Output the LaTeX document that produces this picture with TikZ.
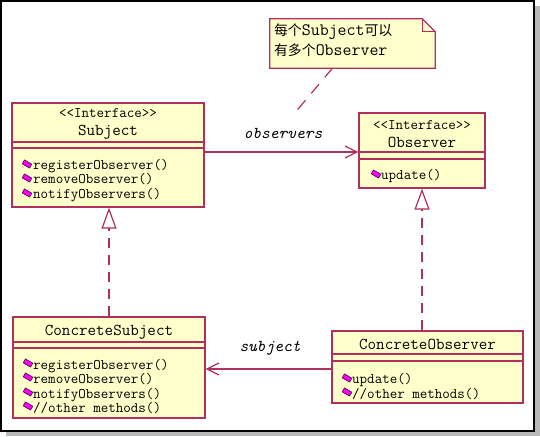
\documentclass[tikz,border=0pt]{standalone}
\usepackage{fontspec}
\newfontfamily\cjk[Scale=0.8]{Noto Sans CJK SC}
\usetikzlibrary{arrows.meta}
\definecolor{umlred}{RGB}{176,48,96}
\definecolor{umlfill}{RGB}{255,255,204}
\definecolor{opfill}{RGB}{255,0,255}
\pgfdeclarelayer{background}
\pgfsetlayers{background,main}

\begin{document}
\begin{tikzpicture}[x=1pt,y=-1pt,
		classbox/.style={draw=umlred,fill=umlfill,line width=1.2pt,inner sep=0pt},
		stereo/.style={font=\ttfamily\fontsize{14.6}{16}\selectfont,inner sep=0pt},
		cname/.style={font=\ttfamily\fontsize{16.6}{19}\selectfont,inner sep=0pt},
		ops/.style={font=\ttfamily\fontsize{14.6}{14.5}\selectfont,align=left,anchor=west,inner sep=0pt},
		opicon/.style={draw=violet!50!black,fill=opfill,line width=0.6pt,minimum width=8.5pt,minimum height=4.5pt,inner sep=0pt,rotate=-30},
		role/.style={font=\ttfamily\itshape\fontsize{16.6}{19}\selectfont,inner sep=0pt},
		assoc/.style={draw=umlred,line width=1.2pt,-{Straight Barb[length=12pt,width=12pt,line width=1.2pt]}},
		realize/.style={draw=umlred,line width=1.2pt,dash pattern=on 10pt off 7pt,-{Triangle[open,length=21pt,width=15pt,line width=1.2pt]}},
		notelink/.style={draw=umlred,line width=1.2pt,dash pattern=on 12pt off 9pt}]
		\useasboundingbox (0,0) rectangle (540,436);
		
		% Subject
		\node[classbox,minimum width=192pt,minimum height=104pt] (subject) at (108,155) {};
		\draw[umlred,line width=1.2pt] (12,142) -- (204,142) (12,148) -- (204,148);
		\node[stereo] (subjectst) at (108,113) {<<Interface>>};
		\node[cname] (subjectname) at (108,132) {Subject};
		\node[ops] (subjectops) at (33,180.5) {registerObserver()\\removeObserver()\\notifyObservers()};
		\foreach \y in {164,178,193} \node[opicon] at (27,\y) {};
		
		% Observer
		\node[classbox,minimum width=126pt,minimum height=75pt] (observer) at (422,150.5) {};
		\draw[umlred,line width=1.2pt] (359,152) -- (485,152) (359,159) -- (485,159);
		\node[stereo] (observerst) at (422,125) {<<Interface>>};
		\node[cname] (observername) at (422,142) {Observer};
		\node[ops] (observerops) at (381,176) {update()};
		\node[opicon] at (376,174) {};
		
		% ConcreteSubject
		\node[classbox,minimum width=192pt,minimum height=101pt] (csubject) at (109,367.5) {};
		\draw[umlred,line width=1.2pt] (13,342) -- (205,342) (13,348) -- (205,348);
		\node[cname] (csubjectname) at (109,332) {ConcreteSubject};
		\node[ops] (csubjectops) at (33,386.5) {registerObserver()\\removeObserver()\\notifyObservers()\\//other methods()};
		\foreach \y in {363,377,392,406} \node[opicon] at (28,\y) {};
		
		% ConcreteObserver
		\node[classbox,minimum width=191pt,minimum height=72pt] (cobserver) at (427.5,367) {};
		\draw[umlred,line width=1.2pt] (332,354) -- (523,354) (332,361) -- (523,361);
		\node[cname] (cobservername) at (427.5,344) {ConcreteObserver};
		\node[ops] (cobserverops) at (352,386.5) {update()\\//other methods()};
		\foreach \y in {378,392} \node[opicon] at (347,\y) {};
		
		% note
		\node[font=\ttfamily\fontsize{17.4}{20}\selectfont,align=left,text width=157pt,inner xsep=4pt,inner ysep=0pt,minimum height=49pt] (note) at (352.5,40.5)
			{{\cjk 每个}Subject{\cjk 可以}\\{\cjk 有多个}Observer};
		\begin{pgfonlayer}{background}
			% frame with shadow
			\fill[gray!55] (6,6) rectangle (540,436);
			\filldraw[fill=white,draw=black,line width=1.3pt] (1,1) rectangle (534,431);
			\filldraw[fill=umlfill,draw=umlred,line width=1.2pt] ([yshift=-3pt]note.south west) -- ([yshift=-3pt]note.north west) -- ([xshift=-13pt,yshift=-3pt]note.north east) -- ([yshift=-16pt]note.north east) -- ([yshift=-3pt]note.south east) -- cycle;
			\draw[umlred,line width=1.2pt] ([xshift=-13pt,yshift=-3pt]note.north east) |- ([yshift=-16pt]note.north east);
		\end{pgfonlayer}
		\coordinate (notetail) at (293,115);
		\draw[notelink] ([xshift=-20pt,yshift=-3pt]note.south) -- (notetail);
		
		% connectors
		\draw[assoc] (subject.east |- 0,152) -- (observer.west |- 0,152);
		\node[role] (observersrole) at (283,133) {observers};
		\draw[assoc] (cobserver.west |- 0,369) -- (csubject.east |- 0,369);
		\node[role] (subjectrole) at (270,348) {subject};
		\draw[realize] (csubject.north) -- (csubject.north |- subject.south);
		\draw[realize] (cobserver.north -| observer.south) -- (observer.south);
	\end{tikzpicture}
\end{document}
